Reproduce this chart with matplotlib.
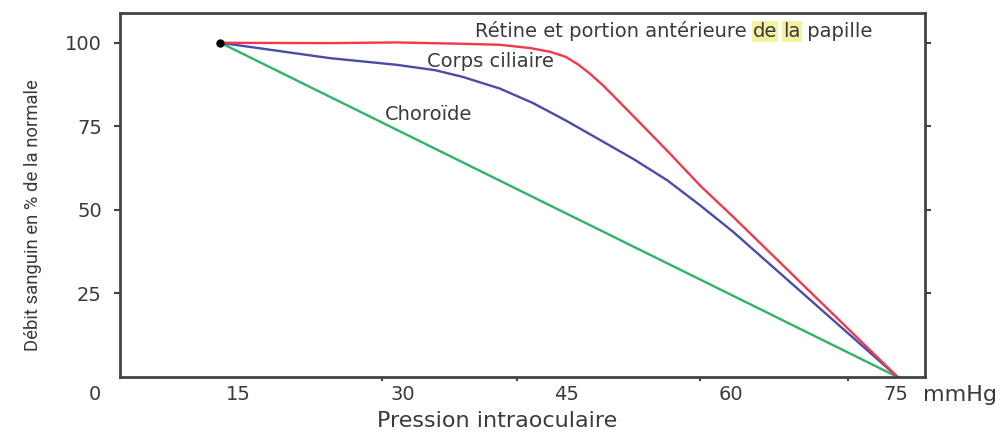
import matplotlib.pyplot as plt

# Pression intraoculaire (mmHg) / débit sanguin (% de la normale)
retine_x = [13.4, 23.4, 29.5, 35.5, 38.9, 41.7, 43.5, 44.9, 46.0, 47.1, 48.3,
            49.6, 51.1, 54.2, 57.2, 60.2, 75.2]
retine_y = [100, 99.9, 100.1, 99.7, 99.4, 98.4, 97.3, 95.8, 93.6, 90.8, 87.3,
            83.0, 78.0, 67.6, 57.2, 47.9, 0]

ciliaire_x = [13.4, 23.4, 29.5, 33.0, 35.5, 38.9, 41.9, 45.0, 48.0, 51.1, 54.2,
              57.2, 60.2, 75.2]
ciliaire_y = [100, 95.4, 93.4, 91.8, 89.8, 86.3, 82.0, 76.6, 71.0, 65.2, 58.8,
              51.3, 43.4, 0]

choroide_x = [13.4, 75.2]
choroide_y = [100, 0]

xtick_values = [15, 30, 45, 60, 75]
xtick_marks = [15, 28.1, 40.5, 57.2, 70.7]
ytick_values = [25, 50, 75, 100]

plt.rcParams['font.family'] = ['DejaVu Sans']
txt_color = '#3a3a3a'
axis_color = '#444444'

fig = plt.figure(figsize=(10.05, 4.32), dpi=100, facecolor='white')
ax = fig.add_axes([120/1005, 1 - 377/432, 805/1005, 364.3/432])

ax.plot(choroide_x, choroide_y, color='#2fb36a', lw=1.7, solid_capstyle='round')
ax.plot(ciliaire_x, ciliaire_y, color='#4b4ba8', lw=1.7, solid_capstyle='round')
ax.plot(retine_x, retine_y, color='#f03a4c', lw=1.7, solid_capstyle='round')
ax.plot([retine_x[0]], [retine_y[0]], 'o', color='black', ms=5)

ax.set_xlim(4.23, 77.7)
ax.set_ylim(0, 109)

for sp in ax.spines.values():
    sp.set_color(axis_color)
    sp.set_linewidth(2)

# x : labels and tick marks are not aligned in the original
ax.set_xticks(xtick_values)
ax.set_xticklabels([str(v) for v in xtick_values])
ax.set_xticks(xtick_marks, minor=True)
ax.tick_params(axis='x', which='major', length=0, pad=6, labelsize=14,
               labelcolor=txt_color)
ax.tick_params(axis='x', which='minor', length=3, width=1.5, color=axis_color,
               direction='out')

ax.set_yticks(ytick_values)
ax.set_yticklabels([str(v) for v in ytick_values])
ax.tick_params(axis='y', which='major', length=4, width=1.5, color=axis_color,
               direction='out', right=True, pad=9, labelsize=14,
               labelcolor=txt_color)

ax.text(-0.031, -0.049, '0', transform=ax.transAxes, ha='center', va='center',
        fontsize=14, color=txt_color)
ax.text(1.043, -0.049, 'mmHg', transform=ax.transAxes, ha='center', va='center',
        fontsize=16, color=txt_color)

# étiquettes des courbes
lab = dict(fontsize=14, color=txt_color)
hl = dict(boxstyle='square,pad=0.05', fc='#f4f1a0', ec='none')
t1 = ax.text(36.6, 103.6, 'Rétine et portion antérieure ', ha='left',
             va='center', **lab)
t2 = ax.annotate('de', xycoords=t1, xy=(1, 0), va='bottom', bbox=hl, **lab)
t3 = ax.annotate(' ', xycoords=t2, xy=(1, 0), va='bottom', **lab)
t4 = ax.annotate('la', xycoords=t3, xy=(1, 0), va='bottom', bbox=hl, **lab)
ax.annotate(' papille', xycoords=t4, xy=(1, 0), va='bottom', **lab)

ax.text(38.0, 94.3, 'Corps ciliaire', ha='center', va='center', **lab)
ax.text(32.4, 78.5, 'Choroïde', ha='center', va='center', **lab)

fig.text(497/1005, 1 - 427/432, 'Pression intraoculaire', ha='center',
         va='baseline', fontsize=16, color=txt_color)
fig.text(33/1005, 1 - 215/432, 'Débit sanguin en % de la normale',
         rotation=90, ha='center', va='center', fontsize=13.3, color=txt_color,
         family=['Roboto', 'DejaVu Sans'])

fig.savefig('out.png', dpi=100, facecolor='white')
